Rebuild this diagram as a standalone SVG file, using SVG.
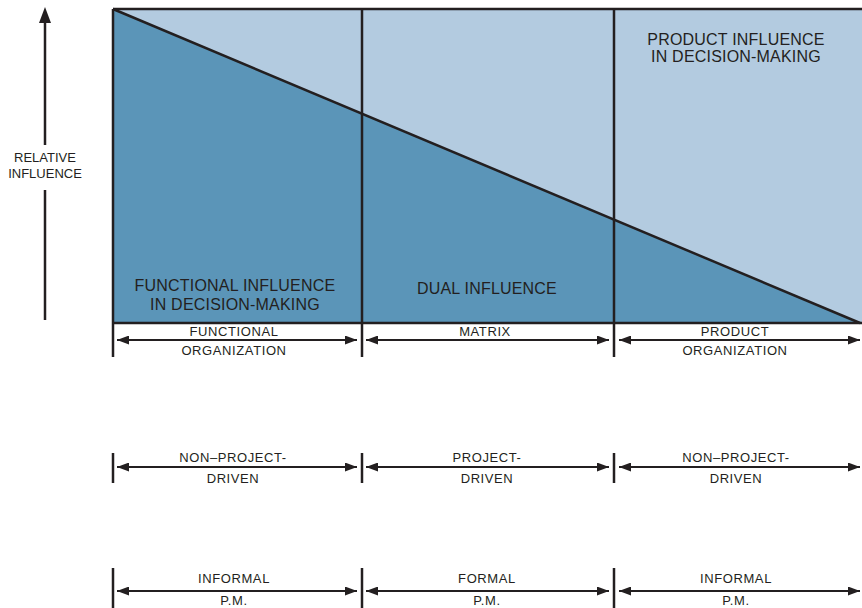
<svg xmlns="http://www.w3.org/2000/svg" width="862" height="608" viewBox="0 0 862 608">
<style>
.t{font-family:"Liberation Sans",Arial,sans-serif;fill:#231f20;text-anchor:middle}
.big{font-size:16px;letter-spacing:0.2px}
.sm{font-size:13px;letter-spacing:0.6px}
.ln{stroke:#231f20;stroke-width:2.5;fill:none}
.ar{stroke:#231f20;stroke-width:2;fill:none;marker-start:url(#ah);marker-end:url(#ah)}
</style>
<defs>
<marker id="ah" viewBox="0 0 12 9" refX="12" refY="4.5" markerWidth="12" markerHeight="9" markerUnits="userSpaceOnUse" orient="auto-start-reverse">
<path d="M0,0 L12,4.5 L0,9 Z" fill="#231f20"/>
</marker>
</defs>
<g id="chart">
<rect x="113" y="9" width="749" height="314" fill="#b3cbe0"/>
<polygon points="113,9 860,323 113,323" fill="#5b95b8"/>
<line class="ln" x1="113" y1="9" x2="862" y2="9"/>
<line class="ln" x1="113" y1="9" x2="860" y2="323"/>
<line class="ln" x1="113" y1="323" x2="862" y2="323"/>
<line class="ln" x1="113" y1="9" x2="113" y2="357"/>
<line class="ln" x1="362" y1="9" x2="362" y2="357"/>
<line class="ln" x1="614" y1="9" x2="614" y2="357"/>
</g>
<g id="axis">
<line class="ln" x1="45" y1="22" x2="45" y2="145"/>
<path d="M39,23 L45,7 L51,23 Z" fill="#231f20"/>
<line class="ln" x1="45" y1="190" x2="45" y2="320"/>
<text class="t sm" x="45" y="161.5" style="letter-spacing:0">RELATIVE</text>
<text class="t sm" x="45" y="178" style="letter-spacing:0">INFLUENCE</text>
</g>
<g id="functional-influence">
<text class="t big" x="235" y="291">FUNCTIONAL INFLUENCE</text>
<text class="t big" x="235" y="310">IN DECISION-MAKING</text>
</g>
<g id="dual-influence">
<text class="t big" x="487" y="294">DUAL INFLUENCE</text>
</g>
<g id="product-influence">
<text class="t big" x="736" y="45">PRODUCT INFLUENCE</text>
<text class="t big" x="736" y="62">IN DECISION-MAKING</text>
</g>
<g id="row1">
<text class="t sm" x="234" y="336">FUNCTIONAL</text>
<text class="t sm" x="234" y="355">ORGANIZATION</text>
<text class="t sm" x="485" y="336">MATRIX</text>
<text class="t sm" x="735" y="336">PRODUCT</text>
<text class="t sm" x="735" y="355">ORGANIZATION</text>
</g>
<g id="row2">
<line class="ln" x1="113" y1="453" x2="113" y2="483"/>
<line class="ln" x1="362" y1="453" x2="362" y2="483"/>
<line class="ln" x1="614" y1="453" x2="614" y2="483"/>
<text class="t sm" x="233" y="462">NON–PROJECT-</text>
<text class="t sm" x="233" y="483">DRIVEN</text>
<text class="t sm" x="487" y="462">PROJECT-</text>
<text class="t sm" x="487" y="483">DRIVEN</text>
<text class="t sm" x="736" y="462">NON–PROJECT-</text>
<text class="t sm" x="736" y="483">DRIVEN</text>
</g>
<g id="row3">
<line class="ln" x1="113" y1="568" x2="113" y2="608"/>
<line class="ln" x1="362" y1="568" x2="362" y2="608"/>
<line class="ln" x1="614" y1="568" x2="614" y2="608"/>
<text class="t sm" x="234" y="583">INFORMAL</text>
<text class="t sm" x="234" y="605">P.M.</text>
<text class="t sm" x="487" y="583">FORMAL</text>
<text class="t sm" x="487" y="605">P.M.</text>
<text class="t sm" x="736" y="583">INFORMAL</text>
<text class="t sm" x="736" y="605">P.M.</text>
</g>
<g id="connectors">
<line class="ar" x1="117" y1="340" x2="357" y2="340"/>
<line class="ar" x1="366" y1="340" x2="609" y2="340"/>
<line class="ar" x1="619" y1="340" x2="860" y2="340"/>
<line class="ar" x1="117" y1="467" x2="357" y2="467"/>
<line class="ar" x1="366" y1="467" x2="609" y2="467"/>
<line class="ar" x1="619" y1="467" x2="860" y2="467"/>
<line class="ar" x1="117" y1="591" x2="357" y2="591"/>
<line class="ar" x1="366" y1="591" x2="609" y2="591"/>
<line class="ar" x1="619" y1="591" x2="860" y2="591"/>
</g>
</svg>
